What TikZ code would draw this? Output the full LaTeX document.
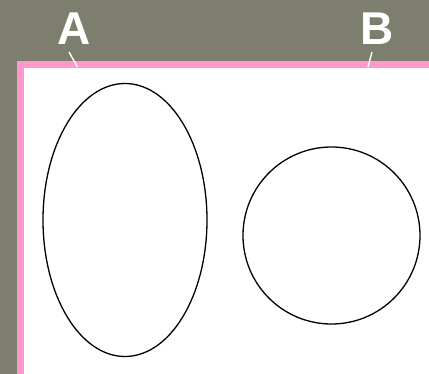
\documentclass[tikz,border=0pt]{standalone}
\usepackage{fontspec}
\setmainfont{Liberation Sans}
\usepackage{xcolor}
\definecolor{slate}{HTML}{7E7E6F}
\definecolor{rim}{HTML}{FF99CC}
\tikzset{
  letter/.style={text=white, font=\fontsize{46}{46}\selectfont\bfseries, inner sep=0pt},
  pointer/.style={draw=white, line width=1.4pt},
  outline/.style={draw=black, line width=1.3pt}
}

\begin{document}
\begin{tikzpicture}[x=1pt,y=-1pt]
\fill [slate] (0,0) rectangle (429,374);
\useasboundingbox (0,0) rectangle (429,374);
\fill [rim] (17,61) rectangle (429,374);
\fill [white] (23.5,68) rectangle (429,374);
%
\node (A) [letter] at (74,29) {A};
\node (B) [letter] at (377,29) {B};
\coordinate (a) at (77.5,67);
\coordinate (b) at (368,67);
\draw [pointer] (69,52) -- (a);
\draw [pointer] (372,52) -- (b);
%
\draw [outline] (125,220) ellipse [x radius=82, y radius=136.5];
\draw [outline] (331.5,235.5) circle [radius=88.5];
\end{tikzpicture}
\end{document}
